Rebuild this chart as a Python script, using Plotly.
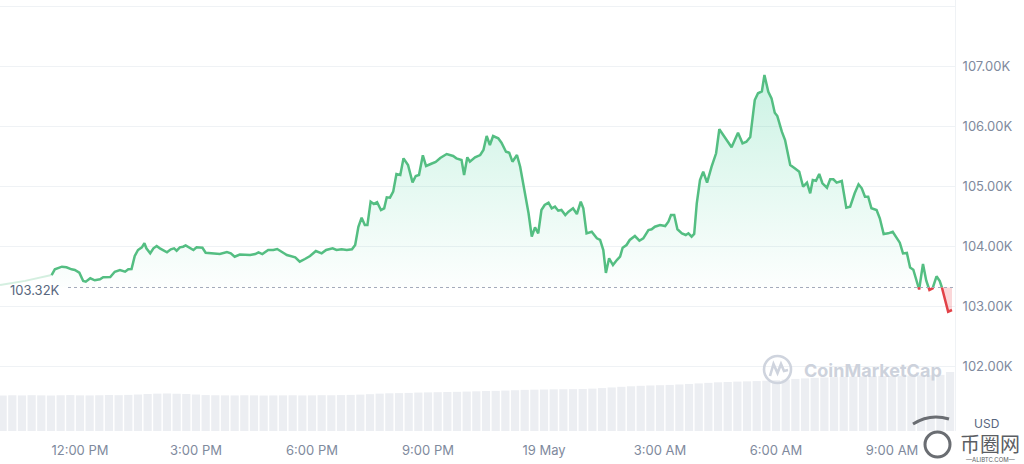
import plotly.graph_objects as go
import pandas as pd

# ---------------- data ----------------
BASE_TIME = "2025-05-18 12:00"          # minute offsets below are relative to this
OPEN_PRICE = 103320                      # 24h reference (dotted line)

price_minutes = [
    -44, -39, -28, -21, -13, -8, -1, 5, 9, 16,
    23, 31, 36, 47, 54, 62, 70, 75, 80, 85,
    90, 96, 100, 103, 109, 114, 119, 124, 135, 141,
    146, 150, 155, 160, 164, 170, 176, 181, 190, 195,
    207, 217, 228, 234, 240, 248, 264, 272, 277, 283,
    292, 300, 306, 313, 321, 334, 341, 349, 357, 366,
    375, 382, 392, 398, 406, 414, 422, 427, 432, 437,
    442, 446, 451, 456, 461, 467, 472, 476, 481, 486,
    491, 497, 502, 509, 516, 521, 526, 532, 537, 546,
    552, 559, 569, 579, 584, 592, 596, 601, 605, 613,
    621, 626, 631, 636, 641, 649, 654, 661, 666, 671,
    678, 683, 690, 696, 701, 706, 711, 716, 721, 727,
    732, 737, 742, 747, 753, 758, 765, 771, 777, 781,
    786, 794, 802, 807, 812, 816, 821, 827, 833, 838,
    842, 848, 853, 861, 868, 874, 882, 887, 892, 900,
    908, 913, 917, 922, 927, 934, 940, 944, 949, 953,
    957, 962, 967, 973, 980, 987, 992, 998, 1004, 1011,
    1016, 1021, 1028, 1034, 1040, 1047, 1052, 1058, 1062, 1068,
    1073, 1078, 1082, 1089, 1094, 1102, 1109, 1116, 1122, 1128,
    1133, 1137, 1142, 1147, 1152, 1159, 1164, 1169, 1174, 1182,
    1189, 1195, 1202, 1208, 1213, 1218, 1223, 1228, 1236, 1241,
    1247, 1254, 1261, 1267, 1272, 1277, 1283, 1288, 1293, 1302,
    1308, 1313, 1318, 1323, 1329, 1334, 1337, 1342, 1347, 1353,
]
price_usd = [
    103528, 103623, 103667, 103657, 103623, 103612, 103567, 103428, 103417, 103473,
    103440, 103457, 103490, 103495, 103583, 103612, 103583, 103623, 103628, 103845,
    103945, 103990, 104057, 103973, 103890, 103973, 104012, 103973, 103907, 103957,
    103973, 103933, 103990, 104000, 104023, 103983, 103945, 103990, 103983, 103900,
    103890, 103878, 103912, 103890, 103833, 103870, 103862, 103878, 103907, 103878,
    103945, 103945, 103962, 103917, 103862, 103823, 103750, 103795, 103845, 103928,
    103890, 103945, 103973, 103945, 103957, 103945, 103957, 104028, 104333, 104483,
    104362, 104362, 104750, 104712, 104740, 104612, 104640, 104823, 104817, 104917,
    105212, 105195, 105473, 105362, 105073, 105178, 105195, 105523, 105345, 105387,
    105412, 105478, 105545, 105512, 105473, 105445, 105195, 105490, 105417, 105490,
    105528, 105612, 105845, 105695, 105845, 105807, 105733, 105583, 105567, 105417,
    105528, 105333, 104945, 104557, 104167, 104323, 104223, 104612, 104695, 104733,
    104640, 104667, 104600, 104612, 104528, 104583, 104640, 104545, 104750, 104640,
    104223, 104250, 104140, 104112, 103945, 103562, 103807, 103695, 103778, 103833,
    103983, 104028, 104112, 104178, 104100, 104140, 104278, 104290, 104333, 104362,
    104345, 104417, 104528, 104528, 104290, 104223, 104195, 104223, 104167, 104212,
    104723, 105112, 105250, 105067, 105333, 105557, 105957, 105862, 105750, 105657,
    105778, 105900, 105723, 105750, 105828, 106445, 106557, 106587, 106862, 106583,
    106473, 106233, 106178, 105917, 105778, 105362, 105307, 105250, 105000, 105067,
    104890, 105112, 105100, 105212, 105057, 104983, 105123, 105123, 105067, 105095,
    104650, 104667, 104890, 105040, 104973, 104833, 104833, 104640, 104612, 104473,
    104212, 104223, 104250, 104140, 104067, 103887, 103895, 103653, 103617, 103287,
    103712, 103437, 103278, 103307, 103507, 103428, 103333, 103140, 102917, 102945,
]

# faint lead-in segment at the far left
prev_minutes = [-124, -85, -44]
prev_usd = [103360, 103430, 103528]

# 24h volume bars (billion USD), one every 15 minutes from VOL_START
VOL_START = "2025-05-18 10:00"
VOL_STEP_MIN = 15
volume_b = [
    39.5, 39.8, 39.6, 39.9, 39.7, 39.5, 39.8, 40.0, 39.7, 39.6, 39.8, 40.1, 39.9, 40.2, 40.6, 41.2,
    41.6, 41.8, 41.5, 41.2, 40.6,
    40.0, 39.8, 39.7, 39.6, 39.8, 39.7, 39.5, 39.6, 39.7, 39.8, 39.6, 39.7, 39.9, 39.8, 40.0, 40.2, 40.5, 41.0,
    41.6, 42.0, 42.2, 42.4,
    42.8, 43.0, 43.2, 43.4, 43.6, 43.9,
    44.2, 44.5, 44.7, 45.0, 45.4,
    45.8, 46.0, 46.2, 46.4, 46.5, 46.6, 46.8, 47.2, 47.8, 48.5,
    49.2, 49.8, 50.3, 50.7, 51.0, 51.3, 51.8, 52.4, 53.0, 53.6,
    54.2, 54.6, 55.0, 55.3, 55.6, 56.0, 56.6, 57.3, 58.0, 58.6,
    59.2, 59.6, 60.0, 60.3, 60.6, 60.8, 61.0, 61.2, 61.4, 61.6, 61.8, 62.0, 62.2, 62.5,
    65.7,
]

x_tick_times = ["2025-05-18 12:00", "2025-05-18 15:00", "2025-05-18 18:00", "2025-05-18 21:00",
                "2025-05-19 00:00", "2025-05-19 03:00", "2025-05-19 06:00", "2025-05-19 09:00"]
x_tick_text = ["12:00 PM", "3:00 PM", "6:00 PM", "9:00 PM", "19 May", "3:00 AM", "6:00 AM", "9:00 AM"]
y_tick_vals = [102000, 103000, 104000, 105000, 106000, 107000, 108000]
y_tick_text = ["102.00K", "103.00K", "104.00K", "105.00K", "106.00K", "107.00K", ""]

# ---------------- helpers ----------------
base_ts = pd.Timestamp(BASE_TIME)
def to_time(m):
    return base_ts + pd.Timedelta(minutes=m)

GREEN = "rgb(84,190,130)"
RED = "rgb(226,66,72)"

# refine the path with crossing points on the open-price line
pts = []
for i in range(len(price_minutes) - 1):
    m0, p0 = price_minutes[i], price_usd[i]
    m1, p1 = price_minutes[i + 1], price_usd[i + 1]
    if i == 0:
        pts.append((m0, p0))
    if (p0 - OPEN_PRICE) * (p1 - OPEN_PRICE) < 0:
        t = (OPEN_PRICE - p0) / (p1 - p0)
        pts.append((m0 + t * (m1 - m0), OPEN_PRICE))
    pts.append((m1, p1))

segs = []
for (a, pa), (b, pb) in zip(pts[:-1], pts[1:]):
    col = "g" if (pa + pb) / 2 >= OPEN_PRICE else "r"
    if segs and segs[-1][0] == col:
        segs[-1][1].append((b, pb))
    else:
        segs.append((col, [(a, pa), (b, pb)]))

def collect(col):
    xs, ys = [], []
    for c, s in segs:
        if c != col:
            continue
        if xs:
            xs.append(None); ys.append(None)
        xs += [to_time(m) for m, _ in s]
        ys += [p for _, p in s]
    return xs, ys

gx, gy = collect("g")
rx, ry = collect("r")
ref_x = [to_time(pts[0][0]), to_time(pts[-1][0])]
ref_y = [OPEN_PRICE, OPEN_PRICE]
up_x = [to_time(m) for m, _ in pts]
up_y = [max(p, OPEN_PRICE) for _, p in pts]
dn_y = [min(p, OPEN_PRICE) for _, p in pts]

vol_t = [pd.Timestamp(VOL_START) + pd.Timedelta(minutes=VOL_STEP_MIN * i) for i in range(len(volume_b))]

# ---------------- figure ----------------
fig = go.Figure()

fig.add_trace(go.Bar(x=vol_t, y=volume_b, yaxis="y2", marker=dict(color="#eceef2", line=dict(width=0)),
                     hoverinfo="skip", showlegend=False))

# green gradient fill
fig.add_trace(go.Scatter(x=ref_x, y=ref_y, mode="lines", line=dict(width=0), showlegend=False, hoverinfo="skip"))
fig.add_trace(go.Scatter(x=up_x, y=up_y, mode="lines", line=dict(width=0), fill="tonexty",
                         fillgradient=dict(type="vertical", start=OPEN_PRICE, stop=max(price_usd),
                                           colorscale=[[0, "rgba(22,199,132,0.01)"], [1, "rgba(22,199,132,0.22)"]]),
                         showlegend=False, hoverinfo="skip"))
# red fill
fig.add_trace(go.Scatter(x=ref_x, y=ref_y, mode="lines", line=dict(width=0), showlegend=False, hoverinfo="skip"))
fig.add_trace(go.Scatter(x=up_x, y=dn_y, mode="lines", line=dict(width=0), fill="tonexty",
                         fillcolor="rgba(234,57,67,0.2)", showlegend=False, hoverinfo="skip"))

# faint lead-in
fig.add_trace(go.Scatter(x=[to_time(m) for m in prev_minutes], y=prev_usd, mode="lines",
                         line=dict(color="rgba(84,190,130,0.25)", width=2), showlegend=False, hoverinfo="skip"))
# price lines
fig.add_trace(go.Scatter(x=gx, y=gy, mode="lines", line=dict(color=GREEN, width=2.5),
                         showlegend=False, connectgaps=False))
fig.add_trace(go.Scatter(x=rx, y=ry, mode="lines", line=dict(color=RED, width=2.5),
                         showlegend=False, connectgaps=False))

PLOT_W, PLOT_H, PLOT_B = 955, 431, 431
def px(x, y):
    return x / PLOT_W, (PLOT_B - y) / PLOT_H

shapes = [
    dict(type="line", xref="paper", yref="y", x0=68 / PLOT_W, x1=1, y0=OPEN_PRICE, y1=OPEN_PRICE,
         line=dict(color="#a3aabb", width=1, dash="dot"), layer="above"),
]
# CoinMarketCap watermark logo
cx0, cy0 = px(764, 383)
cx1, cy1 = px(791, 356)
shapes.append(dict(type="circle", xref="paper", yref="paper", x0=cx0, y0=cy0, x1=cx1, y1=cy1,
                   line=dict(color="#cfd4de", width=2.6)))
mpts = [(770, 376), (773.5, 364), (777.5, 373), (781, 364), (784, 371), (788, 370)]
path = "M " + " L ".join("%.5f %.5f" % px(x, y) for x, y in mpts)
shapes.append(dict(type="path", xref="paper", yref="paper", path=path, line=dict(color="#cfd4de", width=2.6)))
# ALIBTC logo swirl
sx0, sy0 = px(925, 457)
sx1, sy1 = px(950, 432)
shapes.append(dict(type="circle", xref="paper", yref="paper", x0=sx0, y0=sy0, x1=sx1, y1=sy1,
                   line=dict(color="#6a6d72", width=3)))
a = px(913, 424); b = px(930, 413); c = px(949, 419)
shapes.append(dict(type="path", xref="paper", yref="paper",
                   path="M %.5f %.5f Q %.5f %.5f %.5f %.5f" % (a[0], a[1], b[0], b[1], c[0], c[1]),
                   line=dict(color="#6a6d72", width=3)))

annotations = [
    dict(xref="paper", yref="y", x=8 / PLOT_W, y=OPEN_PRICE, yshift=-3, text="103.32K", showarrow=False,
         xanchor="left", yanchor="middle", font=dict(family="Inter, sans-serif", size=13, color="#58667e")),
    dict(xref="paper", yref="paper", x=px(802, 0)[0], y=px(0, 370)[1], text="<b>CoinMarketCap</b>",
         showarrow=False, xanchor="left", yanchor="middle",
         font=dict(family="Inter, sans-serif", size=18, color="#cdd2dc")),
    dict(xref="paper", yref="paper", x=px(986, 0)[0], y=px(0, 423)[1], text="USD", showarrow=False,
         xanchor="center", yanchor="middle", font=dict(family="Inter, sans-serif", size=12, color="#58667e")),
    dict(xref="paper", yref="paper", x=px(990, 0)[0], y=px(0, 444)[1], text="币圈网", showarrow=False,
         xanchor="center", yanchor="middle",
         font=dict(family="Noto Sans CJK SC", size=20, color="#5b5e63")),
    dict(xref="paper", yref="paper", x=px(990, 0)[0], y=px(0, 459)[1], text="—ALIBTC.COM—", showarrow=False,
         xanchor="center", yanchor="middle", font=dict(family="Inter, sans-serif", size=6, color="#5b5e63")),
]

fig.update_layout(
    width=1024, height=464,
    margin=dict(l=0, r=69, t=0, b=33),
    paper_bgcolor="white", plot_bgcolor="white",
    bargap=0.15,
    showlegend=False,
    font=dict(family="Inter, sans-serif", size=13, color="#808a9d"),
    xaxis=dict(type="date", range=["2025-05-18 09:55:55", "2025-05-19 10:37:40"],
               tickvals=x_tick_times, ticktext=x_tick_text, showgrid=False, zeroline=False,
               ticks="outside", ticklen=7, tickcolor="rgba(0,0,0,0)", showline=False,
               tickfont=dict(size=13, color="#808a9d")),
    yaxis=dict(side="right", range=[100928, 108112], tickvals=y_tick_vals, ticktext=y_tick_text,
               showgrid=True, gridcolor="#eff2f5", gridwidth=1, zeroline=False,
               showline=True, linecolor="#eff2f5", linewidth=1,
               ticks="outside", ticklen=4, tickcolor="rgba(0,0,0,0)",
               tickfont=dict(size=13, color="#808a9d")),
    yaxis2=dict(overlaying="y", range=[0, 480], visible=False, showgrid=False),
    shapes=shapes,
    annotations=annotations,
)

fig.write_html("out.html", config={"displayModeBar": False},
               post_script="document.body.style.margin='0px';")
